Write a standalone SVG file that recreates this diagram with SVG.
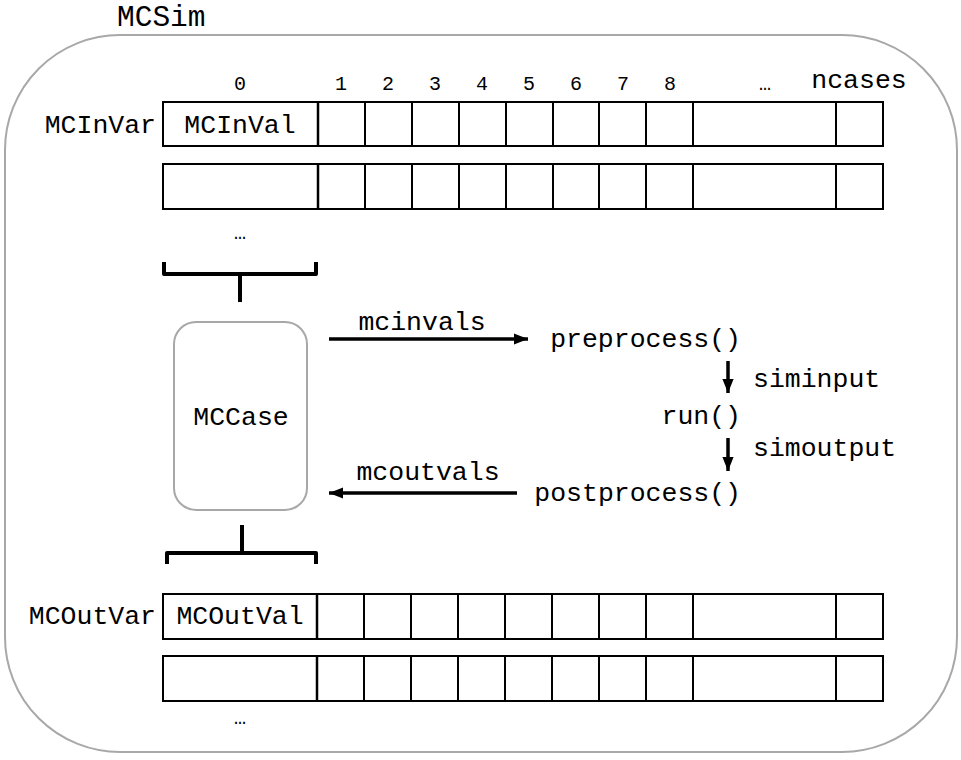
<svg xmlns="http://www.w3.org/2000/svg" width="961" height="760" viewBox="0 0 961 760">
<style>
text{font-family:"Liberation Mono","DejaVu Sans Mono",monospace;fill:#000}
.lbl{font-size:26.5px}
.num{font-size:20px;text-anchor:middle}
.mid{text-anchor:middle}
.end{text-anchor:end}
.cell{fill:#fff;stroke:#000;stroke-width:2}
.div{stroke:#000;stroke-width:2}
.thick{stroke:#000;stroke-width:2.5}
.brace{fill:none;stroke:#000;stroke-width:4;stroke-linejoin:round}
.conn{stroke:#000;stroke-width:3.5;fill:none}
.gray{fill:#fff;stroke:#a8a8a8;stroke-width:2}
</style>
<defs>
<marker id="ah" viewBox="0 0 10 10" refX="10" refY="5" markerWidth="4" markerHeight="3.2" markerUnits="strokeWidth" orient="auto" preserveAspectRatio="none">
<path d="M0,0 L10,5 L0,10 z" fill="#000"/>
</marker>
</defs>
<g id="mcsim">
<rect class="gray" x="5" y="35" width="952" height="717" rx="115" ry="115"/>
<text x="117" y="26" style="font-size:29.5px">MCSim</text>
</g>
<g id="indices">
<text class="num" x="240" y="90">0</text>
<text class="num" x="341" y="90">1</text>
<text class="num" x="388" y="90">2</text>
<text class="num" x="435" y="90">3</text>
<text class="num" x="482" y="90">4</text>
<text class="num" x="529" y="90">5</text>
<text class="num" x="576" y="90">6</text>
<text class="num" x="623" y="90">7</text>
<text class="num" x="670" y="90">8</text>
<text class="num" x="765" y="90">…</text>
<text class="lbl mid" x="859" y="88">ncases</text>
</g>
<g id="mcinvar">
<text class="lbl end" x="156" y="133">MCInVar</text>
<rect class="cell" x="163" y="102" width="720" height="44"/>
<line class="thick" x1="318" y1="102" x2="318" y2="146"/>
<path class="div" d="M365,102V146M412,102V146M459,102V146M506,102V146M553,102V146M599,102V146M646,102V146M693,102V146M836,102V146"/>
<text class="lbl mid" x="240" y="133">MCInVal</text>
</g>
<g id="mcinvar2">
<rect class="cell" x="163" y="164" width="720" height="45"/>
<line class="thick" x1="318" y1="164" x2="318" y2="209"/>
<path class="div" d="M365,164V209M412,164V209M459,164V209M506,164V209M553,164V209M599,164V209M646,164V209M693,164V209M836,164V209"/>
<text class="num" x="240" y="239">…</text>
</g>
<g id="mccase">
<rect class="gray" x="174" y="322" width="133" height="188" rx="22" ry="22"/>
<text class="lbl mid" x="241" y="425">MCCase</text>
</g>
<g id="preprocess"><text class="lbl end" x="741" y="347">preprocess()</text></g>
<g id="run"><text class="lbl end" x="741" y="424">run()</text></g>
<g id="postprocess"><text class="lbl end" x="741" y="501">postprocess()</text></g>
<g id="mcoutvar">
<text class="lbl end" x="156" y="624">MCOutVar</text>
<rect class="cell" x="163" y="594" width="720" height="45"/>
<line class="thick" x1="317" y1="594" x2="317" y2="639"/>
<path class="div" d="M364,594V639M411,594V639M458,594V639M505,594V639M552,594V639M599,594V639M646,594V639M693,594V639M836,594V639"/>
<text class="lbl mid" x="240" y="624">MCOutVal</text>
</g>
<g id="mcoutvar2">
<rect class="cell" x="163" y="656" width="720" height="45"/>
<line class="thick" x1="317" y1="656" x2="317" y2="701"/>
<path class="div" d="M364,656V701M411,656V701M458,656V701M505,656V701M552,656V701M599,656V701M646,656V701M693,656V701M836,656V701"/>
<text class="num" x="240" y="724">…</text>
</g>
<g id="connectors">
<path class="brace" d="M164,262V274H316V262M240,274V302"/>
<path class="brace" d="M167,564V553H316V564M242,525V553"/>
<line class="conn" x1="329" y1="339" x2="528" y2="339" marker-end="url(#ah)"/>
<text class="lbl mid" x="422" y="330">mcinvals</text>
<line class="conn" x1="517" y1="493" x2="329" y2="493" marker-end="url(#ah)"/>
<text class="lbl mid" x="428" y="480">mcoutvals</text>
<line class="conn" x1="728" y1="361" x2="728" y2="393" marker-end="url(#ah)"/>
<text class="lbl" x="753" y="387">siminput</text>
<line class="conn" x1="728" y1="438" x2="728" y2="471" marker-end="url(#ah)"/>
<text class="lbl" x="753" y="456">simoutput</text>
</g>
</svg>
